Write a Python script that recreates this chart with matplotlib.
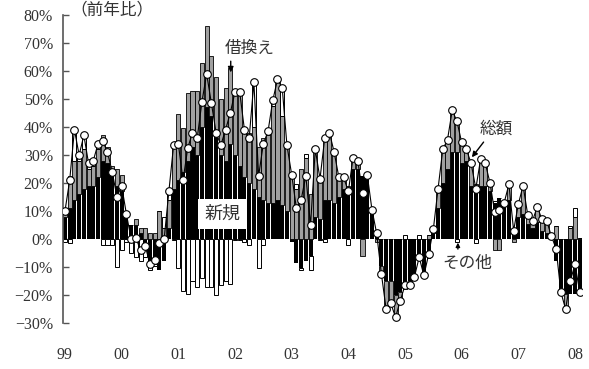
import numpy as np
import matplotlib
matplotlib.use("Agg")
import matplotlib.pyplot as plt

# monthly, Jan 1999 - Feb 2008 (y/y %)
months = np.arange(110)
year_labels = ["99", "00", "01", "02", "03", "04", "05", "06", "07", "08"]

# 新規 (new)
shinki = [8, 11, 14, 16, 18, 19, 19, 22, 28, 27, 23, 19,
          17, 8, 5, 5, 2, -2, -9, -9, -11, -8, 4, 18,
          21, 24, 28, 33, 30, 40, 47, 44, 38, 30, 28, 34,
          30, 26, 22, 20, 18, 15, 14, 13, 13, 14, 12, 10,
          -1, -8.5, -10.5, -8, -6, 8, 7, 14, 14, 13, 15, 18,
          18, 25, 25, 22.5, 23, 10.5, 3, -9.5, -15, -15, -20, -19,
          -17, -15, -13.5, -8, -13, -7, 2, 11, 20, 25, 31, 31,
          27, 28, 19, 18, 19, 19, 17, 13, 14.5, 12.5, 14, 4,
          8, 9, 5.5, 4, 6, 3, 2, 0, -8, -19, -19.5, -19.5,
          -19.5, -19.5]

# 借換え (refinancing)
karikae = [3, 11.5, 14, 12, 14, 6, 7, 10, 9, 6, 3, 6,
           6, 2, 0, 2, 2, 4, 2, 2, 10, 4, 10, 16,
           23.5, 15.5, 24, 20, 23, 23, 29, 21.5, 20, 20, 26, 27,
           23, 27, 18, 18, 22, 18, 22, 24, 34.5, 43, 32, 23.5,
           24, 18, 25, 29, 16, 24, 15, 23, 24, 18, 7, 4,
           1, 4, 3, -6, 0, 0, -1, -3, -10, -8, -8, -3,
           -1, -1.5, 0, 0, 0, 1.5, 1, 7, 12, 10.5, 15, 12,
           7.5, 4, 8, 1.5, 9.5, 8, 3, -4, -4, 0.5, 5.5, -1,
           4.5, 10, 3, 2.5, 5.5, 4, 4.5, 1, 4.5, 0, -5.5, 4,
           8, 0.5]

# その他 (others)
sonota = [-1, -1.5, 11, 2, 5, 2, 2, 2, -2, -2, -2, -10,
          -4, -1, -5, -6.5, -8, -4.5, -2, -0.5, 0, 4, 3, -0.5,
          -10.5, -18.5, -19.5, -15, -17, -14, -17, -17, -20, -16.5, -15, -16,
          -0.5, -0.5, -1, -2, 16, -10.5, -2, 1.5, 2, 0, 10, 0,
          0, 1.5, -0.5, 1.5, -5, 0, -0.5, -1, 0, 0, 0, 0,
          -2, 0, 0, 0, 0, 0, 0, 0, 0, 0, 0, 0,
          1.5, 0, 0, 1.5, 0, 0, 0.5, 0, 0, 0, 0, -1,
          0, 0, 0, -1.5, 0, 0, 0, 0.5, 0, 0, 0, 0,
          0, 0, 0, 0, 0, 0, 0, 0, 0, 0, 0, 0.5,
          3, 0]

# 総額 (total)
sogaku = [10, 21, 39, 30, 37, 27, 28, 34, 35, 31, 24, 15,
          19, 9, 0, 0.5, -4, -2.5, -9, -7.5, -1.5, 0, 17, 33.5,
          34, 21, 32.5, 38, 36, 49, 59, 48.5, 38, 33.5, 39, 45,
          52.5, 52.5, 39, 36, 56, 22.5, 34, 38.5, 49.5, 57, 54, 33.5,
          23, 11, 14, 22.5, 5, 32, 21.5, 36, 38, 31, 22, 22,
          17, 29, 28, 16.5, 23, 10.5, 2, -12.5, -25, -23, -28, -22,
          -16.5, -16.5, -13.5, -6.5, -13, -5.5, 3.5, 18, 32, 35.5, 46, 42,
          34.5, 32, 27, 18, 28.5, 27, 20, 9.5, 10.5, 13, 19.5, 3,
          12.5, 19, 8.5, 6.5, 11.5, 7, 6.5, 1, -3.5, -19, -25, -15,
          -9, -19]

serif = "Liberation Serif"
jp = ["Noto Sans CJK JP", "DejaVu Sans"]
txt = "#333333"

fig = plt.figure(figsize=(5.89, 3.69), dpi=100)
ax = fig.add_axes([0.1063, 0.1247, 0.882, 0.8346])

pos = np.zeros(len(months))
neg = np.zeros(len(months))
styles = [(shinki, "black", "none", 0),
          (karikae, "#a0a0a0", "black", 0.6),
          (sonota, "white", "black", 0.7)]
for vals, fc, ec, lw in styles:
    v = np.array(vals, dtype=float)
    bottom = np.where(v >= 0, pos, neg)
    ax.bar(months, v, bottom=bottom, width=0.86, color=fc,
           edgecolor=ec, linewidth=lw, zorder=2)
    pos += np.clip(v, 0, None)
    neg += np.clip(v, None, 0)

ax.plot(months, sogaku, color="black", lw=0.8, marker="o", ms=5.5,
        mfc="white", mec="black", mew=0.8, zorder=4)

ax.set_xlim(-0.5, 109.5)
ax.set_ylim(-30, 80)
ax.set_yticks(range(-30, 81, 10))
ax.set_yticklabels([f"{t}%".replace("-", "\u2212") for t in range(-30, 81, 10)],
                   fontfamily=serif, fontsize=11.5, color=txt)
ax.set_xticks(months[::12])
ax.set_xticklabels(year_labels, fontfamily=serif, fontsize=11.5, color=txt)
ax.tick_params(axis="y", direction="in", length=4, width=1, color="#555555", pad=7)
ax.tick_params(axis="x", length=0, pad=17)
for s in ["top", "right", "bottom"]:
    ax.spines[s].set_visible(False)
ax.spines["left"].set_color("#555555")
ax.spines["left"].set_linewidth(1.2)

ax.text(10, 82, "（前年比）", family=jp, fontsize=12, color=txt,
        ha="center", va="center")
ax.text(39, 68, "借換え", family=jp, fontsize=12, color=txt,
        ha="center", va="center")
ax.annotate("", xy=(35.1, 58.5), xytext=(35.1, 64.5),
            arrowprops=dict(arrowstyle="-|>", color="black", lw=1, mutation_scale=8))
ax.text(33.3, 8.9, "新規", family=jp, fontsize=13, color=txt,
        ha="center", va="center", zorder=5,
        bbox=dict(boxstyle="square,pad=0.35", fc="white", ec="none"))
ax.text(91.3, 39.3, "総額", family=jp, fontsize=12, color=txt,
        ha="center", va="center")
ax.annotate("", xy=(85.8, 28.4), xytext=(89, 35.4),
            arrowprops=dict(arrowstyle="-|>", color="black", lw=1, mutation_scale=8))
ax.text(85.2, -8.6, "その他", family=jp, fontsize=12, color=txt,
        ha="center", va="center")
ax.annotate("", xy=(83.2, -0.3), xytext=(83.2, -4.6),
            arrowprops=dict(arrowstyle="-|>", color="black", lw=1, mutation_scale=6))

fig.savefig("out.png", dpi=100)
